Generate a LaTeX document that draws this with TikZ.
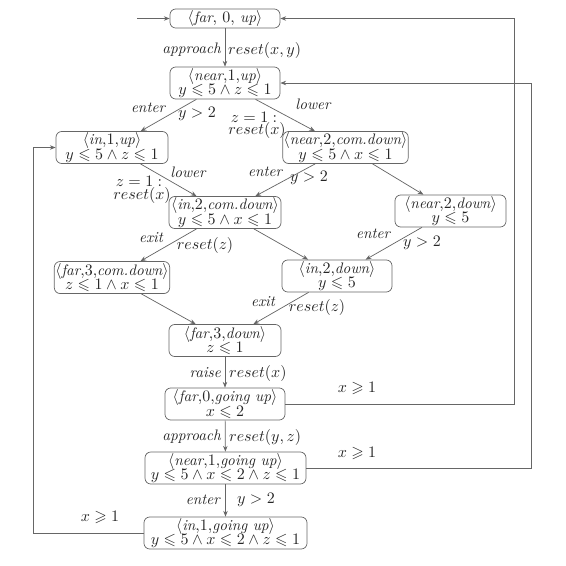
\documentclass[tikz,border=0pt]{standalone}
\usepackage{amssymb}
\usetikzlibrary{arrows.meta}
\newcommand{\tname}[1]{{\fontsize{9.5}{9.5}\selectfont\itshape #1}}
\newcommand{\tightlines}{\fontsize{10}{9.2}\selectfont\lineskiplimit=-10pt\lineskip=0pt\relax}
\begin{document}
\begin{tikzpicture}[x=0.625pt,y=-0.625pt,
  state/.style={draw=black!60, line width=0.45pt, rounded corners=3.6pt, align=center,
    inner xsep=0.6pt, inner ysep=0pt, minimum height=20pt, text=black!85,
    font=\tightlines},
  lbl/.style={inner sep=0.5pt, text=black!85, font=\normalsize},
  conn/.style={draw=black!60, line width=0.45pt, -{Stealth[length=3.6pt,width=2.8pt]}}
]
\useasboundingbox (0,0) rectangle (566,565);

% states
\node[state, minimum width=68.75pt, minimum height=11.9pt] (n1) at (225,18.5) {$\langle$\tname{far}, 0, \tname{up}$\rangle$};
\node[state, minimum width=68.75pt] (n2) at (225,83) {$\langle$\tname{near},1,\tname{up}$\rangle$\\$y\leqslant5\wedge z\leqslant1$};
\node[state, minimum width=70pt] (n3) at (112,147.5) {$\langle$\tname{in},1,\tname{up}$\rangle$\\$y\leqslant5\wedge z\leqslant1$};
\node[state, minimum width=76.9pt] (n4) at (345.5,147.5) {$\langle$\tname{near},2,\tname{com.down}$\rangle$\\$y\leqslant5\wedge x\leqslant1$};
\node[state, minimum width=70pt] (n5) at (225,212.5) {$\langle$\tname{in},2,\tname{com.down}$\rangle$\\$y\leqslant5\wedge x\leqslant1$};
\node[state, minimum width=69.4pt] (n6) at (450.5,211) {$\langle$\tname{near},2,\tname{down}$\rangle$\\$y\leqslant5$};
\node[state, minimum width=70pt] (n7) at (112,277.5) {$\langle$\tname{far},3,\tname{com.down}$\rangle$\\$z\leqslant1\wedge x\leqslant1$};
\node[state, minimum width=68.75pt] (n8) at (337,276) {$\langle$\tname{in},2,\tname{down}$\rangle$\\$y\leqslant5$};
\node[state, minimum width=70pt] (n9) at (225,340.5) {$\langle$\tname{far},3,\tname{down}$\rangle$\\$z\leqslant1$};
\node[state, minimum width=75pt] (n10) at (225,404) {$\langle$\tname{far},0,\tname{going up}$\rangle$\\$x\leqslant2$};
\node[state, minimum width=100.6pt] (n11) at (225.5,468) {$\langle$\tname{near},1,\tname{going up}$\rangle$\\$y\leqslant5\wedge x\leqslant2\wedge z\leqslant1$};
\node[state, minimum width=101.9pt] (n12) at (225.5,533) {$\langle$\tname{in},1,\tname{going up}$\rangle$\\$y\leqslant5\wedge x\leqslant2\wedge z\leqslant1$};

% initial arrow
\coordinate (init) at (137,18.5);
\draw[conn] (init) -- (n1);

% transitions
\draw[conn] (n1) -- (n2);
\draw[conn] (n2) -- (n3);
\draw[conn] (n2) -- (n4);
\draw[conn] (n3) -- (n5);
\draw[conn] (n4) -- (n5);
\draw[conn] (n4) -- (n6);
\draw[conn] (n5) -- (n7);
\draw[conn] (n5) -- (n8);
\draw[conn] (n6) -- (n8);
\draw[conn] (n7) -- (n9);
\draw[conn] (n8) -- (n9);
\draw[conn] (n9) -- (n10);
\draw[conn] (n10) -- (n11);
\draw[conn] (n11) -- (n12);

% loops back
\draw[conn] (n10.east) -- ++(229,0) |- (n1.east);
\draw[conn] (n11.east) -- ++(225.5,0) |- (n2.east);
\draw[conn] (n12.west) -- ++(-110.5,0) |- (n3.west);

% labels
\node[lbl, anchor=east] (l1) at (222,50) {\tname{approach}};
\node[lbl, anchor=west] (l2) at (227,50) {$reset(x,y)$};
\node[lbl] (l3) at (148,108) {\tname{enter}};
\node[lbl] (l4) at (197,114) {$y>2$};
\node[lbl] (l5) at (313,104) {\tname{lower}};
\node[lbl] (l6) at (254,117) {$z=1:$};
\node[lbl] (l7) at (257,130) {$reset(x)$};
\node[lbl] (l8) at (188,172) {\tname{lower}};
\node[lbl] (l9) at (139,181) {$z=1:$};
\node[lbl] (l10) at (142,195) {$reset(x)$};
\node[lbl] (l11) at (265,172) {\tname{enter}};
\node[lbl] (l12) at (309,178) {$y>2$};
\node[lbl] (l13) at (151,238) {\tname{exit}};
\node[lbl] (l14) at (205,245) {$reset(z)$};
\node[lbl] (l15) at (373,234) {\tname{enter}};
\node[lbl] (l16) at (422,243) {$y>2$};
\node[lbl] (l17) at (263,302) {\tname{exit}};
\node[lbl] (l18) at (317,307) {$reset(z)$};
\node[lbl, anchor=east] (l19) at (222,373) {\tname{raise}};
\node[lbl, anchor=west] (l20) at (228,373) {$reset(x)$};
\node[lbl, anchor=east] (l21) at (222,437) {\tname{approach}};
\node[lbl, anchor=west] (l22) at (228,437) {$reset(y,z)$};
\node[lbl, anchor=east] (l23) at (221,500) {\tname{enter}};
\node[lbl, anchor=west] (l24) at (236,500) {$y>2$};
\node[lbl] (l25) at (357,388) {$x\geqslant1$};
\node[lbl] (l26) at (357,453) {$x\geqslant1$};
\node[lbl] (l27) at (100,517) {$x\geqslant1$};
\end{tikzpicture}
\end{document}
